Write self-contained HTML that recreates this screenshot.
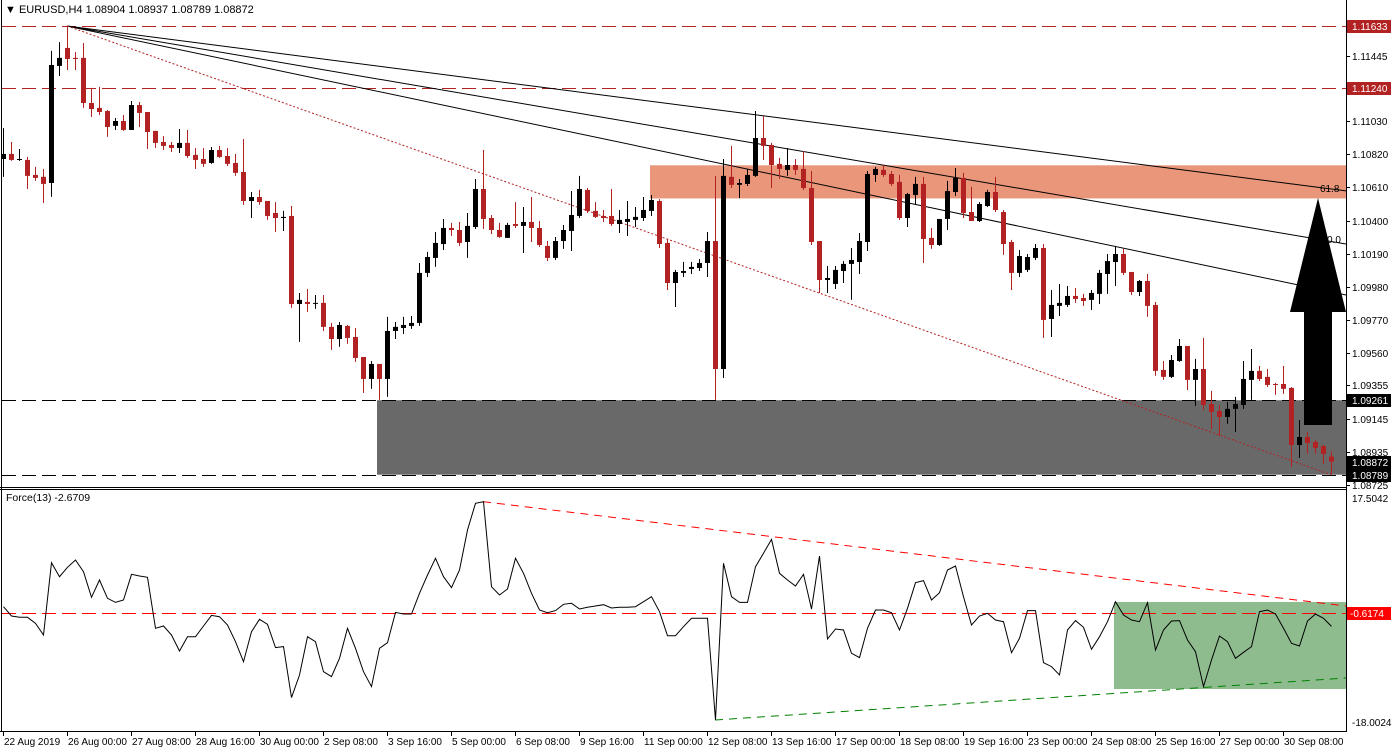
<!DOCTYPE html>
<html><head><meta charset="utf-8"><style>
html,body{margin:0;padding:0;background:#fff;overflow:hidden}
svg{display:block;font-family:"Liberation Sans",Arial,sans-serif}
</style></head><body>
<svg id="chart" width="1392" height="752" viewBox="0 0 1392 752" xmlns="http://www.w3.org/2000/svg">
<rect x="0" y="0" width="1392" height="752" fill="#fff"/>
<g id="mainBg"></g>
<g id="candles"></g>
<g id="mainFg"></g>
<g id="force"></g>
<g id="axes"></g>
<text x="5" y="13" font-size="11" fill="#000">▼ EURUSD,H4  1.08904 1.08937 1.08789 1.08872</text>
<text x="6" y="501" font-size="10.5" fill="#000">Force(13) -2.6709</text>
</svg>
<script>
const openP=[1.10790,1.10822,1.10790,1.10784,1.10689,1.10677,1.10638,1.11380,1.11494,1.11431,
1.11431,1.11145,1.11114,1.11094,1.11000,1.11031,1.10974,1.11132,1.11088,1.10968,
1.10898,1.10879,1.10860,1.10892,1.10816,1.10790,1.10765,1.10847,1.10809,1.10765,
1.10708,1.10524,1.10549,1.10524,1.10448,1.10416,1.10429,1.09871,1.09884,1.09878,
1.09878,1.09726,1.09649,1.09732,1.09662,1.09535,1.09396,1.09491,1.09396,1.09700,
1.09719,1.09732,1.09751,1.10068,1.10163,1.10251,1.10353,1.10340,1.10264,1.10359,
1.10600,1.10416,1.10340,1.10290,1.10378,1.10366,1.10391,1.10353,1.10239,1.10163,
1.10270,1.10334,1.10429,1.10594,1.10461,1.10429,1.10429,1.10378,1.10391,1.10404,
1.10416,1.10461,1.10524,1.10258,1.10004,1.10068,1.10093,1.10099,1.10131,1.10270,
1.09459,1.10677,1.10626,1.10632,1.10683,1.10923,1.10879,1.10759,1.10721,1.10752,
1.10727,1.10606,1.10270,1.10023,1.09998,1.10080,1.10125,1.10137,1.10264,1.10689,
1.10721,1.10695,1.10645,1.10416,1.10562,1.10632,1.10290,1.10245,1.10410,1.10581,
1.10670,1.10454,1.10397,1.10492,1.10581,1.10454,1.10264,1.10068,1.10087,1.10163,
1.10226,1.09776,1.09859,1.09865,1.09922,1.09909,1.09897,1.09935,1.10061,1.10137,
1.10188,1.10074,1.09947,1.10017,1.09865,1.09453,1.09409,1.09510,1.09605,1.09390,
1.09459,1.09237,1.09193,1.09155,1.09206,1.09231,1.09390,1.09447,1.09409,1.09364,
1.09364,1.09339,1.08977,1.09028,1.08996,1.08971,1.08904];
const highP=[1.10986,1.10898,1.10853,1.10803,1.10740,1.10727,1.11475,1.11531,1.11633,1.11468,
1.11525,1.11241,1.11247,1.11101,1.11050,1.11069,1.11158,1.11151,1.11088,1.10968,
1.10936,1.10898,1.10980,1.10974,1.10860,1.10860,1.10866,1.10873,1.10860,1.10822,
1.10917,1.10581,1.10594,1.10524,1.10517,1.10461,1.10492,1.09941,1.09966,1.09928,
1.09928,1.09751,1.09757,1.09738,1.09719,1.09535,1.09510,1.09491,1.09789,1.09757,
1.09789,1.09795,1.10131,1.10201,1.10327,1.10410,1.10385,1.10391,1.10448,1.10663,
1.10847,1.10435,1.10385,1.10385,1.10517,1.10486,1.10549,1.10397,1.10270,1.10296,
1.10372,1.10587,1.10683,1.10607,1.10517,1.10467,1.10600,1.10467,1.10524,1.10486,
1.10549,1.10562,1.10536,1.10283,1.10087,1.10138,1.10138,1.10156,1.10327,1.10683,
1.10790,1.10873,1.10663,1.10727,1.11094,1.11063,1.10892,1.10797,1.10860,1.10790,
1.10841,1.10714,1.10270,1.10112,1.10112,1.10143,1.10226,1.10321,1.10714,1.10740,
1.10752,1.10714,1.10689,1.10575,1.10677,1.10677,1.10353,1.10391,1.10651,1.10733,
1.10702,1.10613,1.10517,1.10594,1.10677,1.10467,1.10277,1.10213,1.10188,1.10251,
1.10251,1.09960,1.09998,1.09985,1.09972,1.09935,1.09960,1.10087,1.10188,1.10239,
1.10220,1.10074,1.10023,1.10061,1.09884,1.09510,1.09548,1.09649,1.09605,1.09523,
1.09656,1.09320,1.09231,1.09250,1.09282,1.09510,1.09586,1.09478,1.09459,1.09371,
1.09478,1.09345,1.09136,1.09060,1.09009,1.08977,1.08937];
const lowP=[1.10677,1.10778,1.10778,1.10600,1.10651,1.10511,1.10550,1.11316,1.11354,1.11354,
1.11114,1.11056,1.11069,1.10930,1.10974,1.10968,1.10974,1.10993,1.10853,1.10860,
1.10847,1.10834,1.10828,1.10797,1.10727,1.10740,1.10759,1.10797,1.10746,1.10683,
1.10499,1.10416,1.10499,1.10404,1.10327,1.10334,1.09846,1.09631,1.09821,1.09840,
1.09700,1.09580,1.09599,1.09618,1.09504,1.09307,1.09333,1.09263,1.09282,1.09649,
1.09681,1.09713,1.09732,1.10042,1.10106,1.10213,1.10302,1.10239,1.10163,1.10346,
1.10346,1.10315,1.10290,1.10290,1.10353,1.10194,1.10264,1.10232,1.10143,1.10150,
1.10220,1.10207,1.10416,1.10448,1.10416,1.10391,1.10366,1.10321,1.10302,1.10359,
1.10397,1.10429,1.10226,1.09960,1.09852,1.10042,1.10061,1.10080,1.10042,1.09263,
1.09402,1.10606,1.10543,1.10619,1.10677,1.10784,1.10606,1.10664,1.10683,1.10689,
1.10594,1.10245,1.09941,1.09941,1.09966,1.10004,1.09897,1.10061,1.10207,1.10645,
1.10677,1.10619,1.10404,1.10359,1.10505,1.10131,1.10220,1.10239,1.10340,1.10556,
1.10416,1.10416,1.10391,1.10486,1.10454,1.10182,1.09960,1.10042,1.10074,1.10150,
1.09656,1.09662,1.09795,1.09852,1.09878,1.09859,1.09833,1.09871,1.09935,1.09985,
1.10055,1.09928,1.09922,1.09789,1.09415,1.09390,1.09402,1.09504,1.09326,1.09225,
1.09200,1.09079,1.09035,1.09111,1.09060,1.09206,1.09263,1.09383,1.09345,1.09295,
1.09301,1.08838,1.08895,1.08921,1.08921,1.08857,1.08789];
const closeP=[1.10822,1.10784,1.10790,1.10683,1.10670,1.10632,1.11386,1.11431,1.11424,1.11424,
1.11145,1.11107,1.11088,1.10993,1.11031,1.10974,1.11132,1.11082,1.10961,1.10892,
1.10873,1.10860,1.10892,1.10809,1.10784,1.10759,1.10847,1.10803,1.10759,1.10702,
1.10524,1.10549,1.10517,1.10429,1.10416,1.10423,1.09871,1.09897,1.09871,1.09878,
1.09726,1.09649,1.09738,1.09656,1.09529,1.09396,1.09491,1.09396,1.09700,1.09726,
1.09738,1.09751,1.10068,1.10169,1.10258,1.10353,1.10340,1.10258,1.10366,1.10600,
1.10410,1.10340,1.10296,1.10372,1.10366,1.10391,1.10353,1.10245,1.10163,1.10270,
1.10340,1.10435,1.10600,1.10461,1.10423,1.10416,1.10378,1.10404,1.10410,1.10423,
1.10467,1.10530,1.10251,1.10004,1.10074,1.10080,1.10106,1.10131,1.10270,1.09459,
1.10683,1.10626,1.10638,1.10689,1.10923,1.10873,1.10752,1.10727,1.10752,1.10721,
1.10606,1.10264,1.10023,1.10036,1.10087,1.10125,1.10150,1.10270,1.10695,1.10727,
1.10689,1.10632,1.10416,1.10568,1.10632,1.10283,1.10245,1.10410,1.10587,1.10670,
1.10448,1.10397,1.10505,1.10581,1.10467,1.10251,1.10068,1.10175,1.10169,1.10226,
1.09770,1.09865,1.09878,1.09922,1.09903,1.09890,1.09941,1.10068,1.10143,1.10188,
1.10068,1.09947,1.10017,1.09859,1.09447,1.09409,1.09516,1.09605,1.09390,1.09459,
1.09231,1.09187,1.09155,1.09206,1.09237,1.09396,1.09447,1.09396,1.09358,1.09358,
1.09333,1.08977,1.09028,1.08990,1.08958,1.08921,1.08872];
const forceVals=[0.42,-1.04,-1.25,-1.25,-2.19,-4.02,7.33,5.13,6.60,7.75,
5.92,1.89,4.61,1.73,1.10,1.47,5.50,5.24,5.03,-2.98,
-2.61,-4.02,-6.53,-4.29,-4.29,-2.61,-0.94,-1.15,-2.45,-5.07,
-8.21,-3.50,-1.56,-2.35,-6.01,-5.85,-13.86,-10.30,-4.29,-5.07,
-9.78,-10.56,-7.69,-2.98,-6.12,-9.78,-12.13,-6.12,-5.23,-0.47,
-0.73,-0.73,2.52,5.40,8.01,5.13,3.41,6.18,12.46,16.65,
16.91,3.56,2.26,3.20,8.01,5.66,2.52,-0.10,-0.52,-0.20,
0.79,0.95,0.06,0.32,0.53,0.74,0.22,0.32,0.32,0.42,
1.21,1.99,-0.36,-4.13,-4.13,-2.72,-1.41,-1.41,-1.41,-17.37,
7.23,1.99,1.10,1.10,6.70,8.80,10.99,5.66,4.61,3.67,
5.50,0.06,8.38,-4.65,-3.08,-3.24,-6.90,-7.58,-2.98,-0.10,
-0.10,-0.52,-3.24,0.16,4.19,4.51,1.47,2.62,6.18,6.81,
1.99,-2.45,-1.04,-0.62,-1.67,-1.93,-6.80,-4.55,-0.20,-0.20,
-8.37,-8.99,-10.30,-3.24,-1.77,-2.82,-6.27,-4.29,-1.93,1.21,
-0.88,-1.67,-1.93,1.05,-6.38,-3.24,-1.83,-1.77,-4.81,-6.64,
-12.13,-7.95,-4.18,-5.07,-7.69,-6.74,-5.85,-0.36,-0.10,-0.73,
-2.98,-5.33,-5.75,-1.83,-0.73,-1.41,-2.67];
const priceTicks=[1.11445,1.11030,1.10820,1.10610,1.10400,1.10190,1.09980,1.09770,1.09560,1.09355,1.09145,1.08935,1.08725];
const hLevels=[1.11633,1.11240];
const zoneLevels=[1.09261,1.08789];
const forceTicks=[17.5042,-18.0024];
const dateLabels=["22 Aug 2019","26 Aug 00:00","27 Aug 08:00","28 Aug 16:00","30 Aug 00:00","2 Sep 08:00","3 Sep 16:00","5 Sep 00:00","6 Sep 08:00","9 Sep 16:00","11 Sep 00:00","12 Sep 08:00","13 Sep 16:00","17 Sep 00:00","18 Sep 08:00","19 Sep 16:00","23 Sep 00:00","24 Sep 08:00","25 Sep 16:00","27 Sep 00:00","30 Sep 08:00"];

const NS="http://www.w3.org/2000/svg";
const RED="#b22222";
const xC=i=>3+8*i;
const yP=p=>26+(1.11633-p)*15777;
const yF=v=>613.3-(v+0.6174)/0.157;
const AX=1346;
function mk(parent,tag,attrs){const e=document.createElementNS(NS,tag);for(const k in attrs)e.setAttribute(k,attrs[k]);document.getElementById(parent).appendChild(e);return e;}

let e;
e=mk('mainBg','rect',{x:xC(81)-1,y:yP(1.10750),width:AX-xC(81)+1,height:yP(1.10540)-yP(1.10750),fill:"#e9967a"});


e=mk('mainBg','rect',{x:xC(47)-2,y:yP(zoneLevels[0]),width:AX-xC(47)+2,height:yP(zoneLevels[1])-yP(zoneLevels[0]),fill:"#696969"});


hLevels.forEach((p,k)=>{
  const l=mk('mainBg','line',{x1:2,x2:AX,y1:yP(p)+0.5,y2:yP(p)+0.5,stroke:RED,"stroke-width":1,"stroke-dasharray":"14,6"});
  
  
});
zoneLevels.forEach((p,k)=>{
  const l=mk('mainBg','line',{x1:2,x2:AX,y1:Math.round(yP(p))+0.5,y2:Math.round(yP(p))+0.5,stroke:"#000","stroke-width":1,"stroke-dasharray":"14,6"});
  
  
});
const fanEnd=[1.10588,1.10251,1.09928];
fanEnd.forEach((p,k)=>{
  const l=mk('mainBg','line',{x1:xC(8),y1:yP(highP[8]),x2:AX,y2:yP(p),stroke:"#000","stroke-width":1});
  
  
});
e=mk('mainBg','line',{x1:xC(8),y1:yP(highP[8]),x2:xC(166),y2:yP(lowP[166]),stroke:RED,"stroke-width":1,"stroke-dasharray":"2,2"});



for(let i=0;i<openP.length;i++){
  const o=openP[i],h=highP[i],l=lowP[i],c=closeP[i];
  const col=c>=o?"#000":RED;const x=xC(i);
  const g=mk('candles','g',{});
  
  
  const w=document.createElementNS(NS,'line');
  w.setAttribute('x1',x+0.5);w.setAttribute('x2',x+0.5);w.setAttribute('y1',yP(h));w.setAttribute('y2',yP(l));w.setAttribute('stroke',col);
  g.appendChild(w);
  const top=Math.min(yP(o),yP(c)),bh=Math.max(1,Math.abs(yP(o)-yP(c)));
  const b=document.createElementNS(NS,'rect');
  b.setAttribute('x',x-2);b.setAttribute('y',top);b.setAttribute('width',5);b.setAttribute('height',bh);b.setAttribute('fill',col);
  g.appendChild(b);
}

e=mk('mainFg','polygon',{points:"1304,425 1332,425 1332,312 1346,312 1318,198 1290,312 1304,312",fill:"#000"});


e=mk('mainFg','text',{x:1320,y:192,"font-size":10,fill:"#000"});e.textContent="61.8";


e=mk('mainFg','text',{x:1327,y:243,"font-size":10,fill:"#000"});e.textContent="0.0";



e=mk('force','rect',{x:1114,y:602,width:AX-1114,height:87,fill:"#8fbc8f"});


e=mk('force','line',{x1:2,x2:AX,y1:613.5,y2:613.5,stroke:"#ff0000","stroke-dasharray":"14,6"});


e=mk('force','line',{x1:xC(60),y1:yF(forceVals[60]),x2:AX,y2:606,stroke:"#ff0000","stroke-dasharray":"8,6"});


e=mk('force','line',{x1:xC(89),y1:yF(forceVals[89]),x2:AX,y2:678,stroke:"#008000","stroke-dasharray":"8,6"});


e=mk('force','polyline',{points:forceVals.map((v,i)=>xC(i)+0.5+","+yF(v).toFixed(1)).join(" "),fill:"none",stroke:"#000","stroke-width":1});



[[1.5,0,1.5,731],[AX+0.5,0,AX+0.5,731],[0,487.5,AX,487.5],[0,489.5,AX,489.5],[0,731.5,AX+1,731.5]].forEach((a,k)=>{
  const l=mk('axes','line',{x1:a[0],y1:a[1],x2:a[2],y2:a[3],stroke:"#000"});
  
  
});
priceTicks.forEach(p=>{
  const y=Math.round(yP(p));
  const t=mk('axes','line',{x1:AX,x2:AX+4,y1:y+0.5,y2:y+0.5,stroke:"#000"});
  
  
  const tx=mk('axes','text',{x:1352,y:y+4,"font-size":10,fill:"#000"});tx.textContent=p.toFixed(5);
  
  
});
const tagList=[[hLevels[0],RED,"#fff"],[hLevels[1],RED,"#fff"],[zoneLevels[0],"#000","#fff"],[closeP[closeP.length-1],"#000","#fff"],[zoneLevels[1],"#000","#fff"]];
tagList.forEach(a=>{
  const y=Math.round(yP(a[0]));
  const r=mk('axes','rect',{x:AX+1,y:y-6,width:44,height:13,fill:a[1]});
  
  
  const tx=mk('axes','text',{x:1352,y:y+4,"font-size":10,fill:a[2]});tx.textContent=a[0].toFixed(5);
  
  
});
forceTicks.forEach(v=>{
  const y=Math.round(yF(v));const yy=v>0?Math.max(y,497):Math.min(y,722);
  const tx=mk('axes','text',{x:1352,y:yy+4,"font-size":10,fill:"#000"});tx.textContent=v.toFixed(4);
  
  
});
e=mk('axes','rect',{x:AX+1,y:607,width:44,height:13,fill:"#ff0000"});


e=mk('axes','text',{x:1350,y:617,"font-size":10,fill:"#fff"});e.textContent="-0.6174";


dateLabels.forEach((s,k)=>{
  const x=xC(k*8);
  const t=mk('axes','line',{x1:x+0.5,x2:x+0.5,y1:731,y2:736,stroke:"#000"});
  
  
  const tx=mk('axes','text',{x:x+1,y:745,"font-size":10,fill:"#000"});tx.textContent=s;
  
  
});
</script>
</body></html>
